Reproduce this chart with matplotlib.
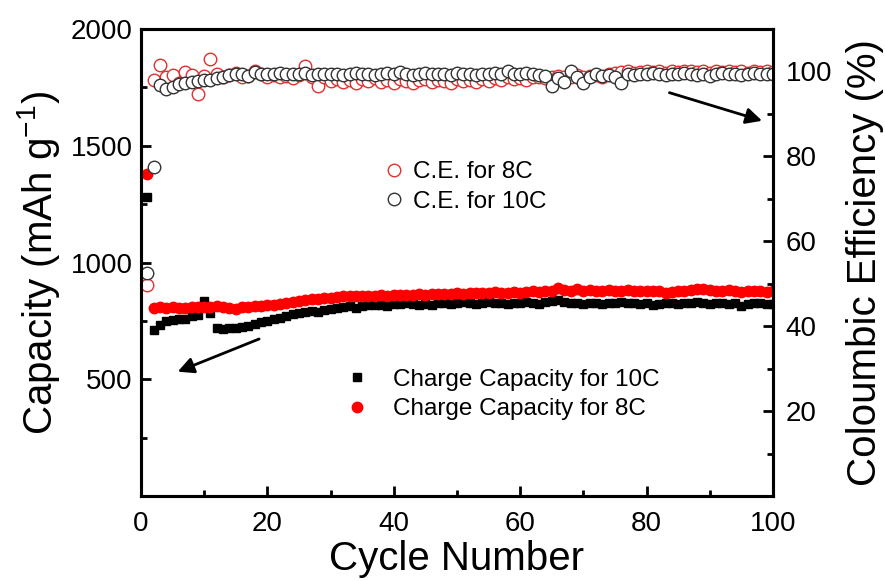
import numpy as np
import matplotlib
matplotlib.use("Agg")
import matplotlib.pyplot as plt
from matplotlib.ticker import MultipleLocator

plt.rcParams['font.family'] = ['Liberation Sans', 'DejaVu Sans']
plt.rcParams['mathtext.default'] = 'regular'

cycles = np.arange(1, 101)

# charge capacity at 10C (mAh/g)
cap_10c = [1280, 712, 733, 750, 752, 760, 757, 770, 775, 835,
           783, 719, 716, 719, 720, 724, 730, 737, 745, 750,
           756, 762, 770, 778, 785, 790, 793, 790, 797, 802,
           806, 808, 812, 806, 812, 816, 820, 818, 815, 823,
           822, 826, 824, 818, 822, 820, 826, 828, 822, 826,
           830, 827, 823, 828, 830, 826, 825, 822, 828, 826,
           829, 826, 822, 830, 834, 838, 832, 828, 826, 824,
           826, 828, 822, 826, 828, 830, 826, 828, 824, 826,
           816, 822, 826, 828, 824, 826, 828, 830, 826, 824,
           828, 826, 822, 826, 815, 822, 826, 828, 824, 822]

# charge capacity at 8C (mAh/g)
cap_8c = [1380, 805, 808, 806, 808, 806, 805, 808, 810, 808,
          810, 812, 808, 805, 800, 808, 810, 812, 815, 818,
          820, 822, 826, 830, 834, 838, 842, 845, 848, 850,
          852, 855, 855, 856, 858, 856, 858, 860, 858, 860,
          862, 860, 862, 864, 862, 864, 866, 864, 866, 868,
          866, 868, 870, 868, 870, 872, 870, 868, 872, 870,
          872, 876, 874, 876, 880, 890, 884, 880, 886, 878,
          884, 878, 880, 882, 878, 880, 882, 878, 876, 880,
          878, 876, 868, 872, 878, 880, 882, 886, 888, 884,
          880, 878, 882, 876, 874, 878, 880, 876, 874, 876]

# coulombic efficiency (%)
ce_8c = [49.7, 98.1, 101.5, 98.8, 99.2, 97.3, 99.8, 99.2, 94.6, 99.0,
         103.0, 99.5, 98.8, 99.2, 99.6, 98.6, 99.0, 100.2, 99.4, 98.8,
         99.2, 98.6, 99.0, 98.4, 99.2, 101.3, 98.8, 96.5, 98.6, 97.8,
         98.2, 97.6, 98.0, 97.4, 98.2, 97.8, 98.4, 97.6, 98.0, 97.2,
         98.2, 97.8, 97.4, 98.0, 98.2, 97.6, 98.0, 97.8, 97.4, 98.2,
         97.8, 98.0, 97.6, 98.2, 97.8, 98.4, 98.0, 98.6, 98.2, 98.4,
         98.0, 98.6, 98.8, 98.4, 98.8, 99.0, 98.6, 98.8, 99.2, 98.8,
         99.0, 99.2, 98.8, 99.4, 99.6, 99.8, 100.0, 99.6, 99.8, 100.2,
         99.8, 100.0, 99.6, 100.2, 99.8, 100.0, 100.2, 99.8, 100.0, 99.6,
         100.2, 99.8, 100.0, 99.8, 100.2, 99.6, 100.0, 99.8, 100.0, 99.8]

ce_10c = [52.5, 77.5, 96.8, 95.9, 96.4, 97.0, 97.2, 97.6, 97.7, 98.0,
          98.1, 98.4, 98.8, 99.2, 99.4, 99.5, 98.9, 99.8, 99.4, 99.5,
          99.4, 99.6, 99.3, 99.5, 99.4, 99.6, 99.2, 99.5, 99.4, 99.3,
          99.5, 99.2, 99.4, 99.6, 99.3, 99.5, 99.2, 99.4, 99.6, 99.3,
          99.8, 99.5, 99.2, 99.4, 99.6, 99.3, 99.5, 99.4, 99.2, 99.6,
          99.3, 99.5, 99.2, 99.4, 99.3, 99.6, 99.5, 100.0, 99.5, 99.3,
          99.6, 99.4, 99.2, 98.9, 96.5, 98.4, 97.6, 100.0, 98.8, 97.2,
          98.6, 99.3, 99.0, 99.2, 98.8, 97.2, 99.4, 99.2, 99.5, 99.3,
          99.6, 99.4, 99.2, 99.5, 99.3, 99.6, 99.4, 99.2, 99.5, 99.0,
          99.4, 99.6, 99.3, 99.5, 99.2, 99.4, 99.6, 99.3, 99.5, 99.4]

fig = plt.figure(figsize=(8.85, 5.81), dpi=100)
ax = fig.add_axes([0.1593, 0.1463, 0.7141, 0.8037])
ax2 = ax.twinx()

ax.plot(cycles, cap_10c, 's', color='black', ms=6.2, label='Charge Capacity for 10C')
ax.plot(cycles, cap_8c, 'o', color='red', ms=7.5, label='Charge Capacity for 8C')

ax2.plot(cycles, ce_8c, 'o', mfc='white', mec='#e03030', mew=1.0, ms=9, label='C.E. for 8C')
ax2.plot(cycles, ce_10c, 'o', mfc='white', mec='#333333', mew=1.0, ms=9, label='C.E. for 10C')

ax.set_xlim(0, 100)
ax.set_ylim(0, 2000)
ax2.set_ylim(0, 110)

ax.xaxis.set_major_locator(MultipleLocator(20))
ax.xaxis.set_minor_locator(MultipleLocator(10))
ax.yaxis.set_major_locator(MultipleLocator(500))
ax.yaxis.set_minor_locator(MultipleLocator(250))
ax2.yaxis.set_major_locator(MultipleLocator(20))
ax2.yaxis.set_minor_locator(MultipleLocator(10))
ax.set_yticks([500, 1000, 1500, 2000])
ax2.set_yticks([20, 40, 60, 80, 100])

for a in (ax, ax2):
    for s in a.spines.values():
        s.set_linewidth(2.2)
    a.tick_params(which='both', direction='in', width=2, labelsize=20, pad=6)
    a.tick_params(which='major', length=7)
    a.tick_params(which='minor', length=4)
ax.tick_params(axis='y', right=False)
ax.tick_params(axis='x', pad=11)
ax2.tick_params(axis='y', pad=9)

ax.set_xlabel('Cycle Number', fontsize=29, labelpad=2)
ax.set_ylabel(r'Capacity (mAh g$^{-1}$)', fontsize=29, labelpad=6)
ax2.set_ylabel('Coloumbic Efficiency (%)', fontsize=29, labelpad=10)

# arrows pointing to the relevant axis
ax.annotate('', xy=(5.4, 528), xytext=(19.1, 677),
            arrowprops=dict(arrowstyle='-|>', color='black', lw=2, mutation_scale=24))
ax2.annotate('', xy=(98.7, 88.2), xytext=(83.2, 95.2),
             arrowprops=dict(arrowstyle='-|>', color='black', lw=2, mutation_scale=24))

leg1 = ax2.legend(loc='center left', bbox_to_anchor=(384 / 885, 1 - 187 / 581),
                  bbox_transform=fig.transFigure, frameon=False, fontsize=17.5,
                  handlelength=0.8, handletextpad=0.38, labelspacing=0.3,
                  borderpad=0, borderaxespad=0, numpoints=1)
leg2 = ax.legend(loc='center left', bbox_to_anchor=(347 / 885, 1 - 394.5 / 581),
                 bbox_transform=fig.transFigure, frameon=False, fontsize=17.5,
                 handlelength=0.8, handletextpad=1.08, labelspacing=0.3,
                 borderpad=0, borderaxespad=0, numpoints=1)

fig.savefig('out.png', dpi=100)
